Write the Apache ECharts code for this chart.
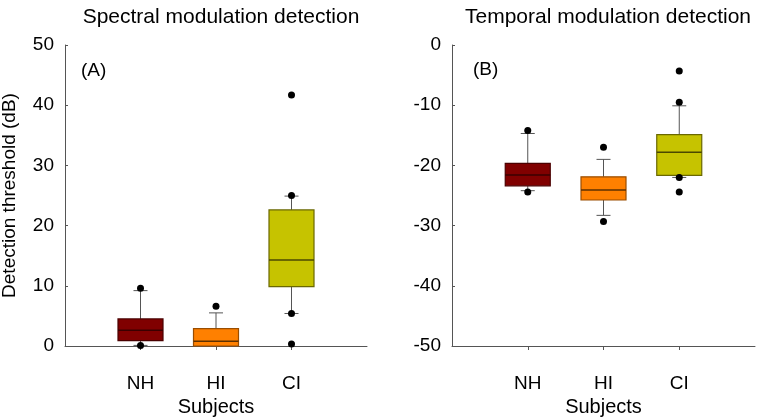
<!DOCTYPE html>
<html>
<head>
<meta charset="utf-8">
<script src="https://cdn.jsdelivr.net/npm/echarts@6/dist/echarts.min.js"></script>
<style>
html,body{margin:0;padding:0;background:#fff;}
#chart{width:757px;height:420px;}
</style>
</head>
<body>
<div id="chart"></div>
<script>
// ---- data ----
const categories = ['NH', 'HI', 'CI'];
// [min, Q1, median, Q3, max] per category
const spectralStats = [
  [0.1, 0.9, 2.6, 4.5, 9.2],
  [0.0, 0.0, 0.8, 2.9, 5.5],
  [5.4, 9.85, 14.3, 22.6, 24.9]
];
const spectralOutliers = [
  ['NH', 9.6], ['NH', 0.1],
  ['HI', 6.6],
  ['CI', 41.7], ['CI', 25.0], ['CI', 5.4], ['CI', 0.35]
];
const temporalStats = [
  [-24.2, -23.4, -21.6, -19.65, -14.7],
  [-28.3, -25.75, -24.1, -21.9, -19.0],
  [-22.0, -21.65, -17.8, -14.9, -10.1]
];
const temporalOutliers = [
  ['NH', -14.2], ['NH', -24.4],
  ['HI', -17.0], ['HI', -29.3],
  ['CI', -4.3], ['CI', -9.5], ['CI', -22.0], ['CI', -24.4]
];
const spectralTicks = [0, 50, 10];
const temporalTicks = [-50, 0, 10];

// ---- styles ----
const fills = ['#800000', '#ff8000', '#c6c300'];
const strokes = ['#4a0000', '#9a4d00', '#6a6800'];
const medians = ['#3a0000', '#5e3000', '#4a4800'];
const FONT = '"Liberation Sans", Arial, sans-serif';

function boxData(stats) {
  return stats.map((s, i) => [i + 1].concat(s));
}
function outlierData(list) {
  return list.map(d => [categories.indexOf(d[0]) + 1, d[1]]);
}

function renderBox(params, api) {
  const x = api.value(0);
  const v = [1, 2, 3, 4, 5].map(i => api.value(i));
  const p = v.map(val => api.coord([x, val]));
  const cx = p[0][0];
  const bw = 45, cw = 14;
  const idx = params.dataIndex;
  const wStyle = {stroke: '#555', lineWidth: 1};
  return {
    type: 'group',
    children: [
      {type: 'line', shape: {x1: cx, y1: p[0][1], x2: cx, y2: p[1][1]}, style: wStyle},
      {type: 'line', shape: {x1: cx, y1: p[3][1], x2: cx, y2: p[4][1]}, style: wStyle},
      {type: 'line', shape: {x1: cx - cw / 2, y1: p[0][1], x2: cx + cw / 2, y2: p[0][1]}, style: wStyle},
      {type: 'line', shape: {x1: cx - cw / 2, y1: p[4][1], x2: cx + cw / 2, y2: p[4][1]}, style: wStyle},
      {type: 'rect', shape: {x: cx - bw / 2, y: p[3][1], width: bw, height: p[1][1] - p[3][1]},
        style: {fill: fills[idx], stroke: strokes[idx], lineWidth: 1.2}},
      {type: 'line', shape: {x1: cx - bw / 2, y1: p[2][1], x2: cx + bw / 2, y2: p[2][1]},
        style: {stroke: medians[idx], lineWidth: 1.5}}
    ]
  };
}

function xAxis(gridIndex) {
  return {
    type: 'value', gridIndex: gridIndex, min: 0, max: 4,
    name: 'Subjects', nameLocation: 'middle', nameGap: 51,
    nameTextStyle: {fontFamily: FONT, fontSize: 20, color: '#000'},
    axisLine: {show: true, onZero: false, lineStyle: {color: '#555', width: 1}},
    axisTick: {show: true, customValues: [1, 2, 3], length: 4, inside: false, lineStyle: {color: '#555'}},
    axisLabel: {show: true, customValues: [1, 2, 3], margin: 28, fontFamily: FONT, fontSize: 19, color: '#000',
      formatter: v => categories[v - 1] || ''},
    splitLine: {show: false}
  };
}
function yAxis(gridIndex, ticks, withName) {
  return {
    type: 'value', gridIndex: gridIndex, min: ticks[0], max: ticks[1], interval: ticks[2],
    name: withName ? 'Detection threshold (dB)' : '',
    nameLocation: 'middle', nameGap: 46,
    nameTextStyle: {fontFamily: FONT, fontSize: 19, color: '#000'},
    axisLine: {show: true, onZero: false, lineStyle: {color: '#555', width: 1}},
    axisTick: {show: true, inside: true, length: 3, lineStyle: {color: '#555'}},
    axisLabel: {margin: 11, fontFamily: FONT, fontSize: 19, color: '#000'},
    splitLine: {show: false}
  };
}

const chart = echarts.init(document.getElementById('chart'), null, {renderer: 'canvas'});
chart.setOption({
  animation: false,
  backgroundColor: '#fff',
  title: [
    {text: 'Spectral modulation detection', left: 216, top: 2, textAlign: 'center',
      textStyle: {fontFamily: FONT, fontSize: 21, fontWeight: 'normal', color: '#000'}},
    {text: 'Temporal modulation detection', left: 603, top: 2, textAlign: 'center',
      textStyle: {fontFamily: FONT, fontSize: 21, fontWeight: 'normal', color: '#000'}},
    {text: '(A)', left: 76, top: 56, textStyle: {fontFamily: FONT, fontSize: 19, fontWeight: 'normal', color: '#000'}},
    {text: '(B)', left: 468, top: 55, textStyle: {fontFamily: FONT, fontSize: 19, fontWeight: 'normal', color: '#000'}}
  ],
  grid: [
    {left: 65, top: 45, width: 302, height: 301, outerBoundsMode: 'none', containLabel: false},
    {left: 452, top: 45, width: 303, height: 301, outerBoundsMode: 'none', containLabel: false}
  ],
  xAxis: [xAxis(0), xAxis(1)],
  yAxis: [yAxis(0, spectralTicks, true), yAxis(1, temporalTicks, false)],
  series: [
    {type: 'custom', xAxisIndex: 0, yAxisIndex: 0, renderItem: renderBox, data: boxData(spectralStats),
      encode: {x: 0, y: [1, 2, 3, 4, 5]}, z: 2},
    {type: 'custom', xAxisIndex: 1, yAxisIndex: 1, renderItem: renderBox, data: boxData(temporalStats),
      encode: {x: 0, y: [1, 2, 3, 4, 5]}, z: 2},
    {type: 'scatter', xAxisIndex: 0, yAxisIndex: 0, data: outlierData(spectralOutliers),
      symbolSize: 7, itemStyle: {color: '#000', opacity: 1}, z: 5},
    {type: 'scatter', xAxisIndex: 1, yAxisIndex: 1, data: outlierData(temporalOutliers),
      symbolSize: 7, itemStyle: {color: '#000', opacity: 1}, z: 5}
  ]
});
</script>
</body>
</html>
